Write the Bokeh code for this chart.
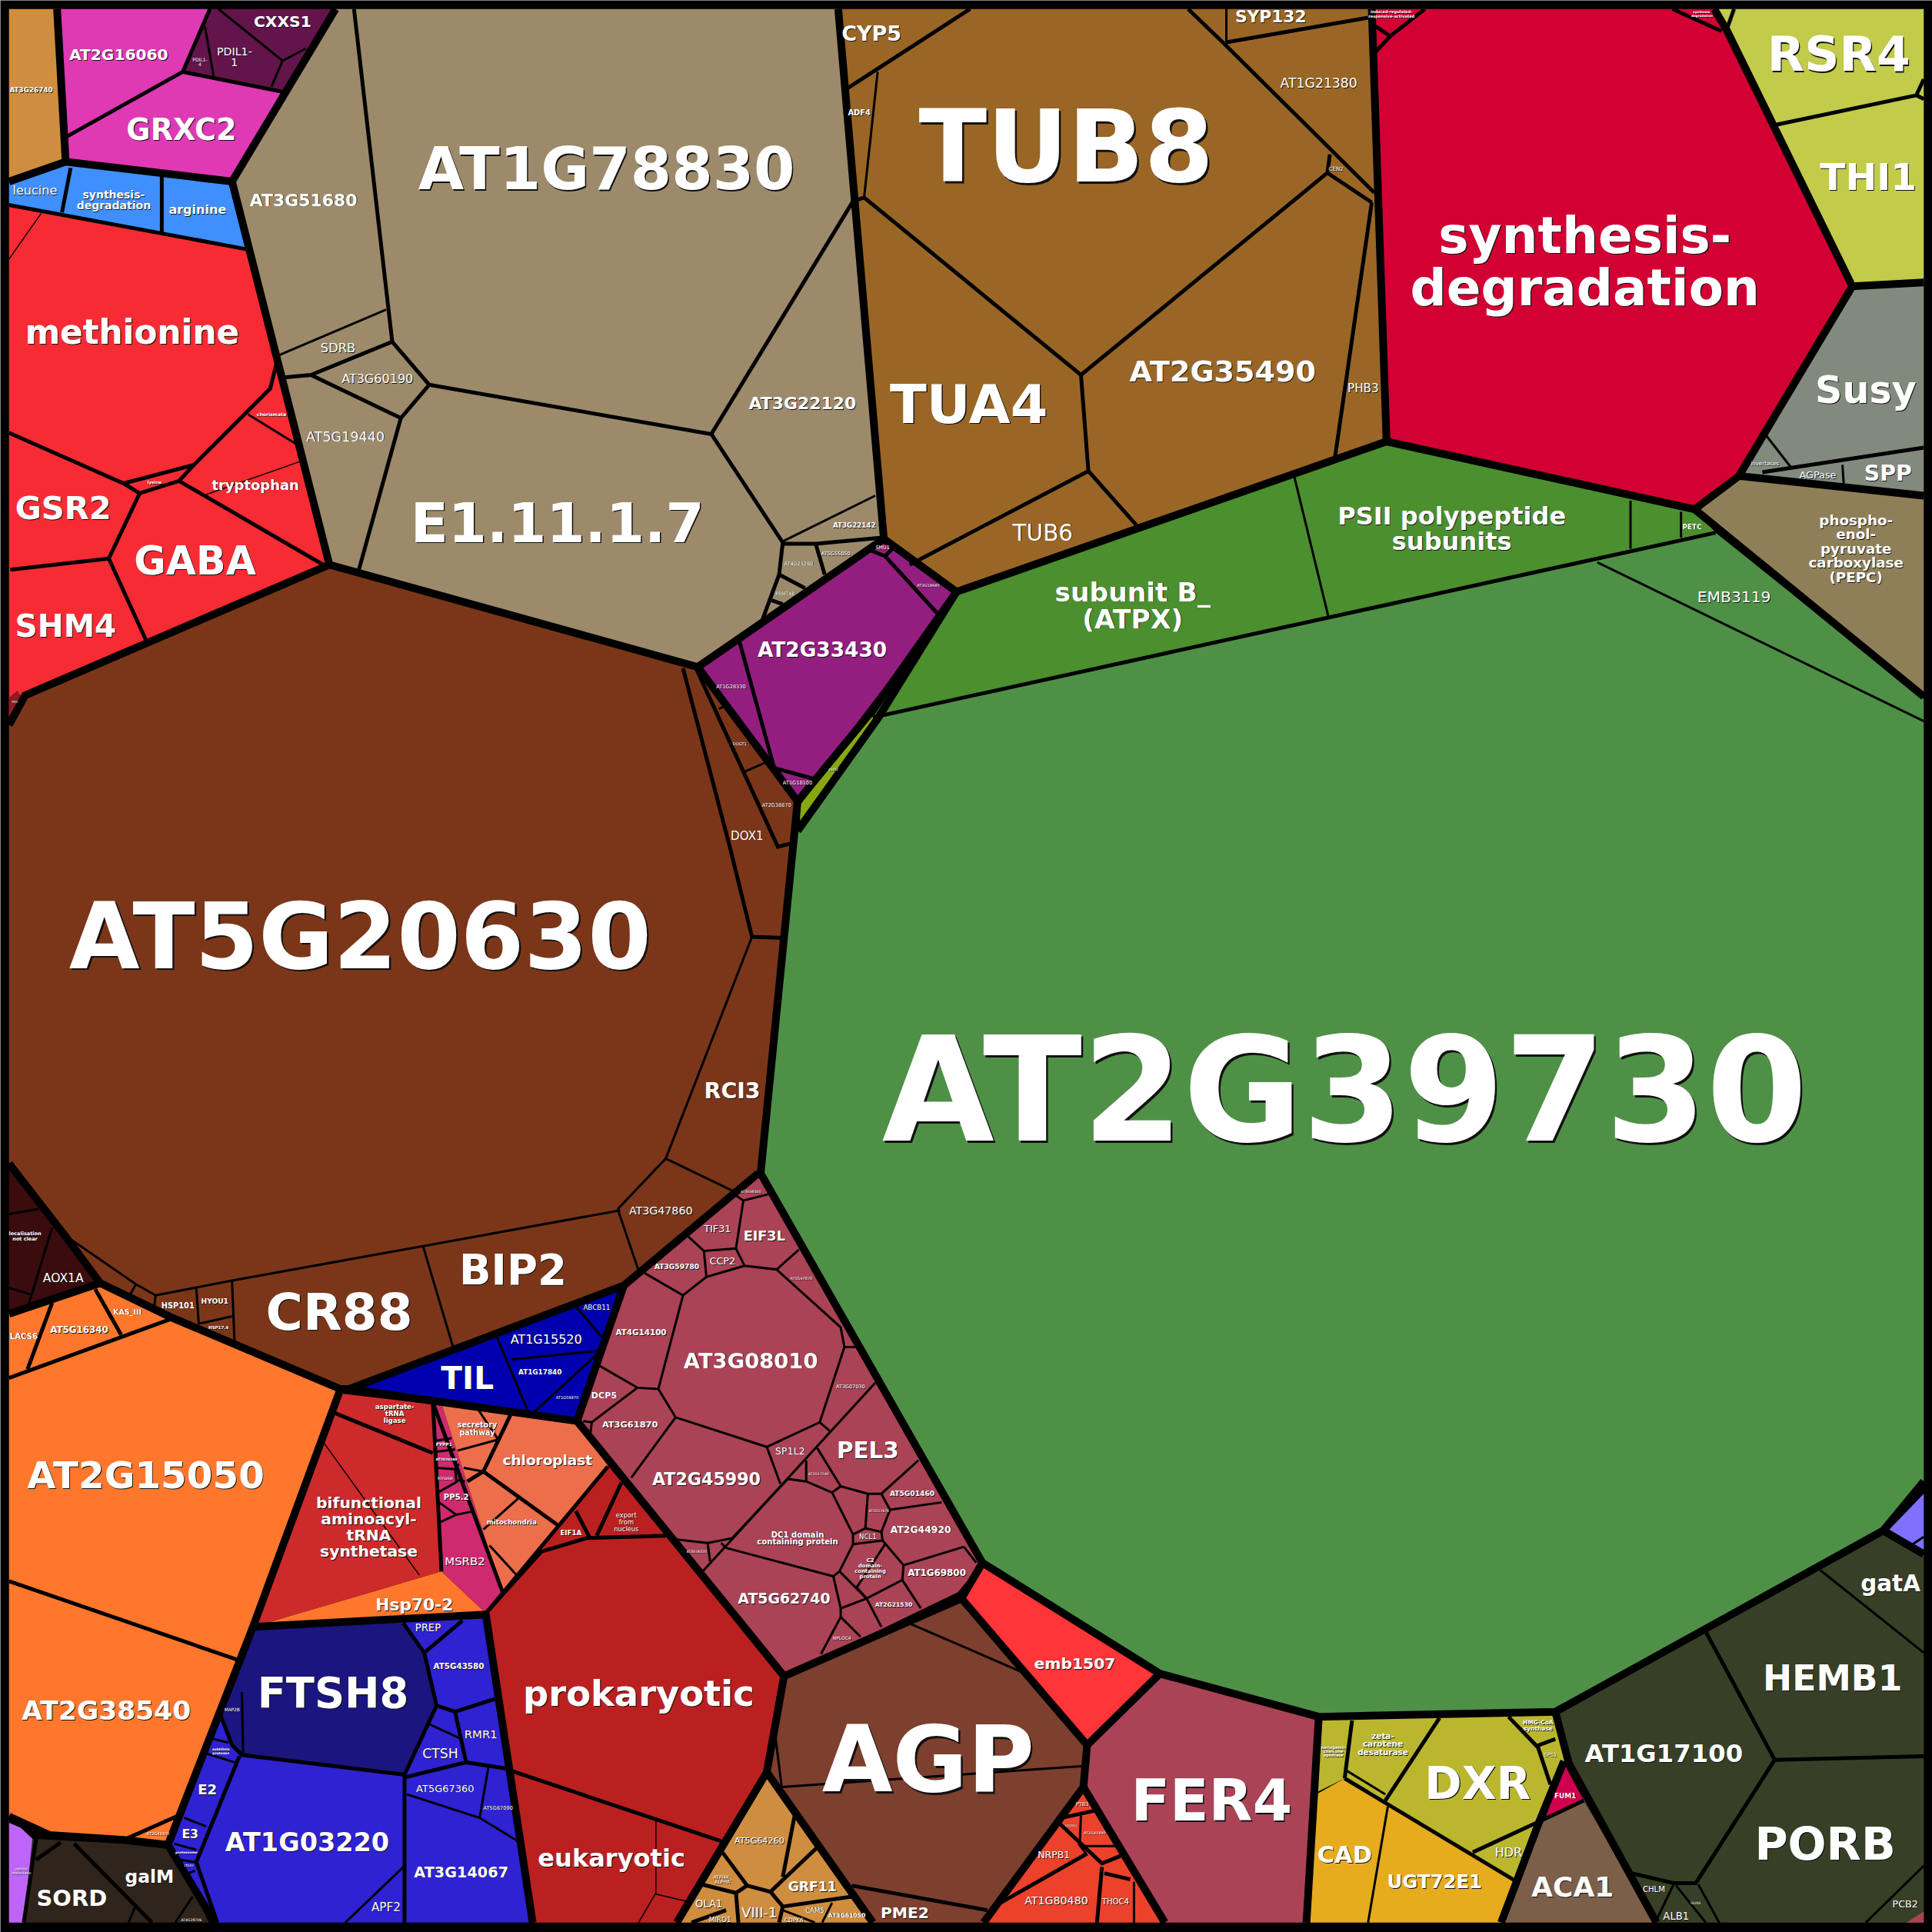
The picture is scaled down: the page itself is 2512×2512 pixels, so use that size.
from bokeh.plotting import figure
from bokeh.models import ColumnDataSource, Range1d
from bokeh.core.properties import value
from bokeh.embed import file_html
from bokeh.resources import INLINE

# ---- cell outlines (x, y on a 0..1568 square) ----
tan_orange_a = [(7,7),(46,7),(53,131),(7,147)]
magenta_a = [(46,7),(170,7),(148,58),(228,74),(188,147),(53,131)]
plum_a = [(170,7),(272,7),(228,74),(148,58)]
sky_a = [(7,147),(53,131),(188,147),(201,203),(7,166)]
red_a = [(7,166),(201,203),(267,458),(20,564),(7,588)]
pdc_a = [(7,566),(14,560),(20,572),(7,588)]
stone_a = [(272,7),(680,7),(717,437),(566,541),(267,458),(188,147)]
ochre_a = [(680,7),(1113,7),(1125,358),(776,480),(717,437)]
crimson_a = [(1113,7),(1391,7),(1401,24),(1503,232),(1411,386),(1375,413),(1125,358)]
lime_a = [(1391,7),(1561,7),(1561,229),(1503,232),(1401,24)]
grey_a = [(1503,232),(1561,229),(1561,402),(1411,386)]
khaki_a = [(1375,413),(1411,386),(1561,402),(1561,565)]
green_dark = [(776,480),(1125,358),(1375,413),(1392,432),(708,582)]
green_main = [(712,583),(708,582),(1392,432),(1561,567),(1561,1202),(1528,1241),(1262,1389),(1070,1393),(941,1358),(797,1268),(617,952),(647,674)]
olive_a = [(708.5,577),(649,653),(649,668),(709.5,584)]
violet_pale = [(1533,1241),(1561,1212),(1561,1258)]
purple_a = [(566,541),(705,446),(716,435),(776,480),(647,650)]
chestnut_a = [(7,588),(20,564),(267,458),(566,541),(647,650),(643,690),(617,952),(506,1043),(283,1127),(276,1127),(139,1069),(81,1041),(52,1002),(7,944)]
maroon_a = [(7,944),(52,1002),(81,1041),(7,1066)]
orange_a = [(7,1066),(81,1041),(139,1069),(276,1127),(205,1320),(136,1497),(100,1493),(40,1489),(7,1474)]
orange_b = [(205,1320),(358,1275),(394,1309),(394,1312)]
indigo_a = [(283,1127),(506,1043),(468,1153)]
rose_a = [(506,1043),(617,952),(797,1268),(777,1292),(636,1360),(468,1153)]
scarlet_a = [(276,1127),(351,1138),(358,1275),(205,1320)]
pink_a = [(351,1138),(358,1139),(408,1293),(394,1309),(358,1275)]
salmon_a = [(358,1139),(468,1153),(493,1189),(408,1293)]
brick_a = [(493,1189),(540,1246),(636,1360),(622,1438),(549,1560),(432,1560),(394,1310)]
navy_a = [(205,1320),(327,1317),(344,1341),(354,1384),(328,1440),(196,1424),(188,1416),(178,1390)]
royal_a = [(205,1320),(394,1310),(432,1560),(174,1560),(136,1497)]
umber_a = [(26,1492),(136,1498),(174,1560),(19,1560)]
lilac_a = [(7,1474),(26,1492),(19,1560),(7,1560)]
tan_orange_b = [(622,1438),(708,1560),(549,1560)]
sienna_a = [(636,1360),(780,1297),(882,1416),(879,1450),(798,1560),(708,1560),(622,1438)]
coral_a = [(780,1297),(797,1268),(941,1358),(882,1416)]
rose_b = [(941,1358),(1070,1393),(1060,1560),(945,1560),(879,1450),(882,1416)]
vermilion_a = [(879,1450),(945,1560),(798,1560)]
mustard_a = [(1070,1393),(1262,1389),(1273,1431),(1269,1429),(1249,1478),(1229,1526),(1091,1443),(1069,1454)]
gold_a = [(1091,1443),(1231,1527),(1218,1560),(1060,1560),(1068,1456)]
fum_a = [(1269,1431),(1285,1461),(1254,1475)]
taupe_a = [(1285,1461),(1344,1560),(1218,1560),(1249,1478)]
moss_a = [(1262,1389),(1528,1242),(1561,1261),(1561,1560),(1344,1560),(1285,1461),(1273,1431)]
rose_corner = [(1561,1551),(1561,1560),(1547,1560)]

region_cells = [tan_orange_a, magenta_a, plum_a, sky_a, red_a, pdc_a, stone_a, ochre_a, crimson_a, lime_a, grey_a, khaki_a,
                green_dark, green_main, olive_a, violet_pale, purple_a, chestnut_a, maroon_a, orange_a, orange_b, indigo_a,
                rose_a, scarlet_a, pink_a, salmon_a, royal_a, navy_a, brick_a, umber_a, lilac_a, tan_orange_b, sienna_a, coral_a,
                rose_b, vermilion_a, mustard_a, gold_a, fum_a, taupe_a, moss_a, rose_corner]
region_colors = ["#CF8D3F","#DF39B4","#63144B","#3F8FFF","#F62B33","#8E1A24","#9C8A6B","#9A6626","#D30034","#C2CB4A","#828A7E","#8F7F58",
                 "#4C8F2E","#4F9047","#88A80F","#7F70FF","#931E80","#7B3619","#3A0C0E","#FF772C","#FF772C","#0000AE",
                 "#AA4355","#CD2A2B","#CF2A6F","#EC6E4B","#2E22D2","#1B1580","#BB2020","#2F251D","#BE65F8","#CF8D3F","#7D3F2E","#FF3538",
                 "#AA4355","#EC412B","#BAB72F","#E6AC1E","#D00050","#7C5F48","#374026","#AA4355"]

# ---- cell borders, by level of the hierarchy ----
borders_top = [
 [(46,7),(53,131)],
 [(7,147),(53,131),(188,147),(272,7)],
 [(188,147),(267,458),(566,541),(717,437),(776,480),(1125,358),(1375,413),(1411,386),(1503,232),(1401,24),(1391,7)],
 [(680,7),(717,437)], [(1113,7),(1125,358)], [(1503,232),(1561,229)], [(1411,386),(1561,402)], [(1375,413),(1561,565)],
 [(776,480),(708,576),(647,650)], [(566,541),(647,650),(643,690),(617,952),(797,1268),(941,1358),(1070,1393),(1262,1389),(1528,1242),(1561,1202)],
 [(776,480),(712,583),(647,674)], [(1528,1242),(1561,1261)], [(267,458),(20,564),(7,588)],
 [(615,952),(506,1043),(283,1127),(276,1127),(139,1069),(81,1041),(52,1002),(7,944)], [(81,1041),(7,1066)],
 [(506,1043),(468,1153),(636,1360),(780,1297),(797,1268)], [(283,1127),(468,1153)],
 [(276,1127),(205,1320),(136,1497),(100,1493),(40,1489),(7,1474)], [(136,1497),(174,1560)],
 [(205,1320),(394,1310),(432,1560)], [(636,1360),(622,1438),(549,1560)], [(622,1438),(708,1560)],
 [(780,1297),(882,1416),(941,1358)], [(882,1416),(879,1450),(798,1560)], [(879,1450),(945,1560)],
 [(1070,1393),(1060,1560)], [(1262,1389),(1273,1431),(1344,1560)], [(1269,1429),(1249,1478),(1218,1560)],
]
borders_mid = [
 [(708,582),(1392,432)],
 [(148,58),(53,111)], [(170,7),(148,58),(228,74)],
 [(7,166),(200,202)], [(57,136),(50,172)], [(131,143),(131,188)],
 [(7,351),(100,392),(157,377),(219,315),(224,295)], [(100,392),(113,400),(145,390),(157,377)], [(145,390),(262,458)],
 [(113,400),(88,453),(119,521)], [(88,453),(8,462)],
 [(287,7),(318,277),(252,304),(230,306)], [(318,277),(348,312),(325,339),(291,462)], [(252,304),(325,339)],
 [(348,312),(577,352),(692,163)], [(577,352),(635,440),(632,466),(618,504)], [(635,441),(662,441),(716,436)],
 [(662,442),(669,466)], [(632,466),(653,477)], [(626,487),(635,490)],
 [(685,73),(787,7)], [(964,7),(993,35),(1115,156)], [(995,34),(1110,14)], [(1077,140),(1113,164)],
 [(692,163),(701,160),(877,304),(1077,140),(1079,125)], [(877,304),(883,382),(923,427),(1083,372),(1113,164)], [(883,382),(738,458)],
 [(1113,19),(1128,29),(1156,7)], [(1128,29),(1114,44)], [(1357,7),(1397,25)], [(1407,7),(1401,24)],
 [(1441,101),(1555,77),(1561,64)], [(1555,77),(1561,80)], [(1430,383),(1561,363)],
 [(600,521),(628,623),(661,632)], [(705,446),(718,451),(760,497)], [(718,451),(724,445)],
 [(565,543),(631,687),(642,684)], [(554,542),(592,687),(610,760),(636,761)],
 [(7,1118),(139,1070)], [(42,1057),(22,1111)], [(77,1046),(98,1083)],
 [(7,1283),(193,1347)], [(100,1493),(145,1473)],
 [(276,1129),(351,1138),(358,1275)], [(351,1138),(408,1293)], [(270,1146),(351,1179)],
 [(414,1148),(392,1194),(379,1202)], [(392,1194),(453,1238)], [(394,1309),(493,1190)], [(394,1309),(439,1259),(476,1248),(540,1246)],
 [(467,1226),(478,1247)], [(504,1203),(484,1246)], [(415,1437),(585,1494)],
 [(327,1317),(344,1341),(375,1315)], [(178,1390),(188,1416),(196,1424),(328,1440),(354,1384),(344,1341)],
 [(354,1384),(369,1389),(403,1378)], [(369,1389),(378,1430)], [(329,1442),(378,1430),(411,1435)], [(328,1441),(328,1560)],
 [(194,1425),(159,1511),(176,1560)],
 [(29,1492),(19,1560)], [(49,1495),(29,1509)], [(60,1496),(123,1560)],
 [(645,1471),(635,1523)], [(586,1503),(606,1530),(597,1536),(569,1529)], [(606,1530),(625,1535),(664,1498)], [(625,1535),(635,1547),(691,1539)], [(635,1547),(632,1560)],
 [(597,1536),(599,1560)], [(589,1550),(561,1560)], [(691,1530),(801,1550)],
 [(857,1476),(889,1469)], [(860,1480),(894,1512),(909,1506)], [(894,1515),(890,1560)], [(896,1520),(917,1525)], [(882,1504),(810,1545)],
 [(1097,1396),(1091,1443)], [(1168,1394),(1124,1461)], [(1091,1443),(1231,1527)], [(1224,1393),(1248,1418),(1258,1448)], [(1262,1411),(1246,1417)], [(1249,1478),(1195,1503)],
 [(1249,1478),(1285,1461)],
 [(1383,1322),(1440,1428),(1561,1425)], [(1440,1428),(1376,1528),(1358,1528),(1324,1520)],
]
borders_low = [
 [(166,21),(173,61)], [(177,7),(229,49),(248,39)], [(229,49),(220,70)],
 [(201,336),(240,360)], [(313,251),(226,288)], [(635,439),(710,402)],
 [(712,58),(701,160)], [(995,7),(995,34)], [(1079,125),(1077,140)],
 [(1050,386),(1078,501)], [(1323,406),(1323,445)], [(1364,415),(1364,436)], [(1296,456),(1561,585)],
 [(1433,353),(1454,380)], [(1495,377),(1496,392)],
 [(501,981),(540,940),(594,966)], [(501,981),(518,1031)], [(540,940),(610,760)],
 [(52,1002),(110,1042),(126,1051),(188,1039),(343,1011),(503,982)], [(343,1011),(368,1095)],
 [(188,1039),(190,1088)], [(159,1045),(161,1074),(188,1068)], [(126,1051),(125,1059)], [(110,1042),(105,1051)],
 [(583,575),(588,573)], [(604,626),(620,619)],
 [(7,985),(31,981)], [(42,996),(23,1058)], [(7,1045),(24,1050)], [(7,1478),(28,1487)],
 [(403,1085),(429,1147)], [(415,1103),(486,1096)], [(485,1098),(433,1146)], [(467,1060),(490,1087)],
 [(597,970),(603,974),(623,969)], [(603,974),(597,1013),(571,1015),(558,1003)],
 [(597,1013),(604,1027),(630,1030),(648,1014)], [(571,1015),(573,1036),(604,1027)], [(573,1036),(554,1051),(523,1033)],
 [(554,1051),(534,1127),(517,1126),(486,1108)], [(630,1030),(682,1077),(685,1093),(665,1154),(622,1174),(548,1150),(534,1127)],
 [(685,1093),(694,1093)], [(665,1154),(673,1161)], [(710,1122),(570,1275)], [(622,1174),(633,1204)], [(548,1150),(512,1199)],
 [(517,1126),(480,1154),(473,1153)], [(480,1154),(479,1162)], [(663,1175),(682,1206),(704,1212),(715,1212),(745,1185)],
 [(682,1206),(675,1211),(692,1245),(692,1253),(681,1275),(676,1279),(589,1256)], [(675,1211),(654,1202),(639,1200),(594,1248),(574,1252),(548,1249)],
 [(654,1202),(654,1185)], [(704,1212),(702,1240),(692,1245)], [(702,1240),(715,1243),(722,1225),(715,1212)], [(722,1225),(764,1219)],
 [(715,1243),(716,1250),(692,1253)], [(716,1250),(733,1270),(782,1255)], [(733,1270),(732,1282),(703,1297),(695,1288),(718,1253)],
 [(732,1282),(747,1305)], [(703,1297),(715,1320)], [(681,1275),(703,1297),(682,1305),(676,1279)], [(682,1305),(682,1312),(666,1342)],
 [(682,1312),(698,1328)], [(782,1255),(792,1268)], [(574,1252),(576,1267)], [(585,1252),(589,1256)], [(735,1316),(832,1358)],
 [(353,1169),(366,1167)], [(353,1178),(369,1176)], [(354,1191),(369,1192),(372,1188)], [(369,1192),(370,1201),(377,1202)], [(355,1211),(371,1202)],
 [(356,1219),(370,1229),(385,1226)], [(357,1235),(370,1229)],
 [(388,1144),(404,1168)], [(371,1177),(404,1168)], [(376,1191),(392,1194)], [(420,1216),(392,1241)], [(397,1254),(419,1278)],
 [(348,1399),(374,1411)], [(396,1434),(389,1475)], [(330,1456),(389,1475),(420,1494)], [(327,1515),(280,1560)],
 [(196,1373),(197,1423)], [(168,1423),(190,1430)], [(173,1411),(185,1414)], [(149,1475),(167,1482)], [(141,1496),(159,1501)],
 [(146,1509),(158,1511)], [(152,1520),(158,1518)], [(153,1521),(170,1560)], [(109,1548),(104,1560)], [(156,1539),(142,1560)],
 [(629,1409),(634,1449)], [(634,1450),(879,1433)], [(675,1544),(667,1560)], [(635,1550),(661,1560)],
 [(877,1473),(876,1496)], [(880,1498),(906,1498)], [(920,1527),(920,1560)],
 [(1126,1466),(1110,1560)], [(1093,1437),(1124,1456)], [(875,1496),(881,1504)],
 [(1477,1274),(1561,1341)], [(1561,1514),(1514,1560)],
 [(1358,1529),(1344,1558)], [(1360,1530),(1384,1560)], [(1378,1529),(1395,1560)],
 [(1552,1253),(1561,1247)],
]
borders_hair = [
 [(7,210),(33,173)], [(167,401),(244,374)], [(262,1170),(340,1278)],
 [(532,1477),(532,1536),(518,1560)], [(532,1537),(558,1543)],
]

# ---- labels: text, x, y, font px, bold ----
labels_green = [("AT2G39730",1091,885,186,1),("EMB3119",1407,484,20,0),("subunit B_\n(ATPX)",919,491,34,1),
  ("PSII polypeptide\nsubunits",1178,429,31.6,1),("PETC",1373,427,8.8,1),("purU",676,624,5,0)]
labels_ochre = [("TUB8",865,119,128,1),("TUA4",786,328,69,1),("AT2G35490",992,301,37.5,1),("TUB6",846,432,29,0),("CYP5",707,27,26.6,1),
  ("SYP132",1031,13,21.4,1),("AT1G21380",1070,67,17,0),("ADF4",697,91,9.7,1),("PHB3",1106,315,15,0),("CEN2",1084,137,7,0)]
labels_top_right = [("synthesis-\ndegradation",1286,212,65,1),("synthesis-\ndegradation",1381,11,4,1),("induced-regulated-\nresponsive-activated",1129,11,5,1),
  ("RSR4",1492,44,62,1),("THI1",1516,143,48,1),("Susy",1514,316,48.5,1),("SPP",1532,384,28,1),("AGPase",1475,385,12.6,0),("invertases",1432,376,7,0),
  ("phospho-\nenol-\npyruvate\ncarboxylase\n(PEPC)",1506,445,18,1)]
labels_stone = [("AT1G78830",492,137,75.7,1),("E1.11.1.7",452,424,71,1),("AT3G51680",246,162,21.6,1),("SDRB",274,282,16,0),("AT3G60190",306,307,15.8,0),
  ("AT5G19440",280,354,17.3,0),("AT3G22120",651,327,21.6,1),("AT3G22142",693,426,8.6,1),("AT5G55050",678,449,6.4,0),("AT4G25260",648,457,6.4,0),("PRMT4B",637,481,6,0)]
labels_purple = [("AT2G33430",667,527,26,1),("AT1G28330",593,557,6.5,0),("AT1G18100",647,635,6.5,0),("AT3G19640",753,475,5,0),("SMU1",716,444,6.3,0)]
labels_chestnut = [("AT5G20630",292,760,117,1),("CR88",275,1065,65,1),("BIP2",416,1030,53.8,1),("RCI3",594,885,28,1),("DOX1",606,678,15,0),("DOGT1",600,603,5,0),
  ("AT2G38870",630,653,6.5,0),("AT3G47860",536,982,14,0),("HSP101",144,1059,9.7,1),("HYOU1",174,1056,9,1),("HSP17.4",177,1077,5.4,1),
  ("localisation\nnot clear",20,1003,6.4,1),("AOX1A",51,1037,15.3,0)]
labels_orange = [("LACS6",19,1084,10,1),("AT5G16340",64,1079,11.7,1),("KAS_III",103,1064,9.4,1),("AT2G15050",118,1197,47.7,1),("AT2G38540",86,1388,34,1),
  ("Hsp70-2",336,1302,21.4,1),("AT2G44300",128,1488,5,0)]
labels_red = [("methionine",107,269,43,1),("GSR2",51,412,41,1),("GABA",158,455,50,1),("SHM4",53,508,40,1),("tryptophan",207,393,17.7,1),("chorismate",220,336,6,1),
  ("lysine",125,391,5.5,1),("leucine",28,154,15.8,0),("synthesis-\ndegradation",92,162,13.8,1),("arginine",160,170,15.8,1),("AT2G16060",96,44,19.9,1),("GRXC2",147,105,37.6,1),
  ("CXXS1",229,17,20,1),("PDIL1-\n1",190,46,14,0),("PDIL1-\n4",162,50,6,0),("AT3G26740",25,73,8.7,1),("PDC",12,569,4,0)]
labels_rose = [("AT3G08010",609,1104,27,1),("AT2G45990",573,1200,21.8,1),("PEL3",704,1177,29,1),("EIF3L",620,1003,17.4,1),("AT3G59780",549,1028,9,1),("TIF31",582,997,12.6,0),
  ("CCP2",586,1023,12.6,0),("AT4G14100",520,1081,10.2,1),("DCP5",490,1132,11,1),("AT3G61870",511,1156,11.2,1),("SP1L2",641,1177,12.4,0),("AT5G62740",636,1297,18.6,1),
  ("DC1 domain\ncontaining protein",647,1248,10,1),("C2\ndomain-\ncontaining\nprotein",706,1273,6.7,1),("AT5G01460",740,1212,9,1),("AT2G44920",747,1241,12.2,1),("AT1G69800",760,1276,11.7,1),
  ("AT2G21530",725,1302,7.5,1),("NCL1",704,1247,8.4,0),("NPLOC4",683,1329,5.9,0),("AT3G07030",690,1125,6.4,0),("AT5G47870",650,1037,4.9,0),("AT3G48300",609,967,4.5,0),
  ("AT2G17240",664,1196,4.5,0),("AT2G17670",713,1226,4.5,0),("AT3G16320",565,1259,4.5,0)]
labels_centre = [("TIL",379,1118,40,1),("AT1G15520",443,1087,15.8,0),("AT1G17840",438,1113,8.7,1),("AT1G59870",460,1134,5,0),("ABCB11",484,1061,8.6,0),
  ("aspartate-\ntRNA\nligase",320,1147,8.5,1),("bifunctional\naminoacyl-\ntRNA\nsynthetase",299,1239,20,1),("chloroplast",444,1185,18.2,1),("mitochondria",415,1235,8.6,1),
  ("secretory\npathway",387,1159,9.5,1),("MSRB2",377,1267,14.7,0),("PP5.2",370,1215,10,1),("kinase",361,1199,6,0),("AT2G26280",362,1184,4.3,1),("FYPP1",360,1172,5.8,1),
  ("EIF1A",463,1244,8.5,1),("export\nfrom\nnucleus",508,1235,8.2,0),("prokaryotic",518,1374,45.7,1),("eukaryotic",496,1508,31.6,1)]
labels_royal = [("FTSH8",270,1374,53.6,1),("AT1G03220",249,1495,33,1),("AT3G14067",374,1519,19,1),("AT5G67360",361,1451,12.8,0),("AT5G67090",404,1467,6.5,0),("AT5G43580",372,1352,10.2,1),
  ("PREP",347,1321,13,0),("RMR1",390,1407,14.7,0),("CTSH",357,1423,17,0),("APF2",313,1548,15,0),("E2",168,1452,17.8,1),("E3",154,1488,15.5,1),("MAP2B",188,1387,5.7,0),
  ("subtilisin\nprotease",179,1421,4.3,1),("proteasome",151,1503,4.2,1),("LTA4H",153,1514,4,0),("SORD",58,1540,28.6,1),("galM",121,1523,23,1),("AT4G28706",155,1558,4.5,0),
  ("nitrite\nreductase",17,1518,5,0)]
labels_bottom = [("AT5G64260",616,1494,11,0),("GRF11",659,1531,17,1),("ATPI4K_\nALPHA",586,1525,6,0),("OLA1",575,1545,13,0),("VIII-1",616,1552,17.9,0),("MIRO1",584,1558,8.7,0),
  ("CDPK6",644,1558,7.3,0),("CAM5",661,1550,8.4,0),("AT3G61050",687,1554,7.5,1),("PME2",734,1552,20,1),("AGP",753,1428,117,1),("FER4",983,1461,73,1),("emb1507",872,1350,20,1),
  ("PTB3",878,1464,6.5,0),("UGLYAH",869,1481,4,0),("AT1G47490",888,1487,4.8,0),("NRPB1",855,1505,12.3,0),("AT1G80480",857,1542,14,0),("THOC4",905,1543,10,0)]
labels_right = [("DXR",1199,1447,57.4,1),("HDR",1224,1503,15.8,0),("SPS1",1258,1424,6.6,0),("HMG-CoA\nsynthase",1248,1400,7.4,1),("zeta-\ncarotene\ndesaturase",1122,1415,10.3,1),
  ("naringenin-\nchalcone\nsynthase",1082,1421,5,1),("CAD",1091,1505,30,1),("UGT72E1",1164,1527,24,1),("FUM1",1270,1457,8.8,1),("ACA1",1276,1531,35.6,1),("AT1G17100",1350,1423,31.8,1),
  ("HEMB1",1487,1362,45,1),("PORB",1481,1496,58,1),("gatA",1534,1285,29,1),("CHLM",1342,1533,10,0),("ALB1",1360,1555,13,0),("GUN5",1376,1544,4.5,0),("PCB2",1546,1545,12.5,0)]

all_labels = (labels_green + labels_ochre + labels_top_right + labels_stone + labels_purple + labels_chestnut + labels_orange +
              labels_red + labels_rose + labels_centre + labels_royal + labels_bottom + labels_right)

p = figure(width=2512, height=2512, x_range=Range1d(0, 1568), y_range=Range1d(1568, 0),
           toolbar_location=None, output_backend="svg", min_border=0,
           background_fill_color="#000000", border_fill_color="#000000", outline_line_color=None)
p.axis.visible = False
p.grid.visible = False
p.styles = {"position": "absolute", "left": "0px", "top": "0px"}

p.patches([[q[0] for q in c] for c in region_cells], [[q[1] for q in c] for c in region_cells],
          fill_color=region_colors, line_color=None)

for lines, w in ((borders_hair, 1.5), (borders_low, 3), (borders_mid, 5), (borders_top, 10)):
    p.multi_line([[q[0] for q in l] for l in lines], [[q[1] for q in l] for l in lines],
                 line_color="#000000", line_width=w, line_join="miter", line_cap="butt")

src = ColumnDataSource(dict(
    x=[l[1] for l in all_labels], y=[l[2] for l in all_labels], t=[l[0] for l in all_labels],
    s=[f"{l[3] * 1.015:.2f}px" for l in all_labels], w=["bold" if l[4] else "normal" for l in all_labels],
    o=[max(0.8, min(2.5, l[3] * 0.02)) for l in all_labels]))
p.text("x", "y", text="t", source=src, text_font=value("DejaVu Sans"), text_font_size="s", text_font_style="w",
       text_color="#111111", text_align="center", text_baseline="middle", text_line_height=0.88, x_offset="o", y_offset="o")
p.text("x", "y", text="t", source=src, text_font=value("DejaVu Sans"), text_font_size="s", text_font_style="w",
       text_color="#FFFFFF", text_align="center", text_baseline="middle", text_line_height=0.88)

open("out.html", "w").write(file_html(p, INLINE))
